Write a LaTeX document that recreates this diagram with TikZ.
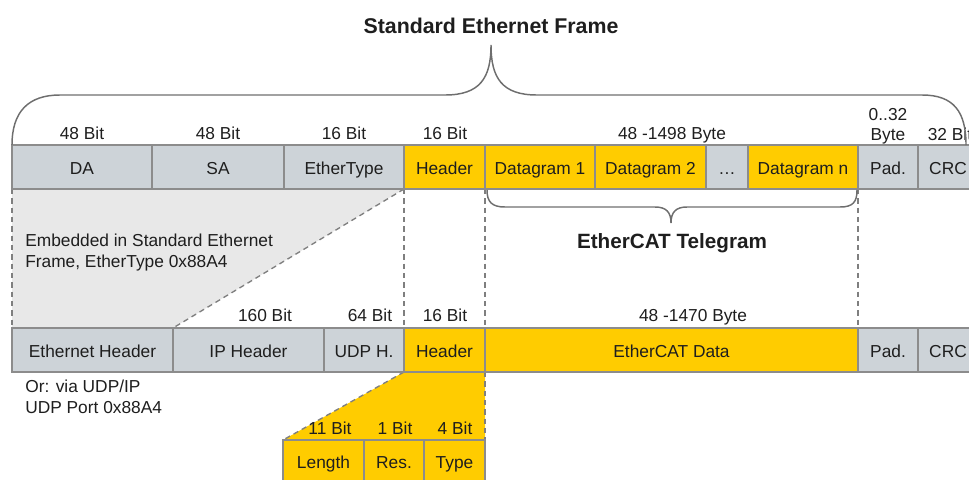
\documentclass[tikz,border=0pt]{standalone}
\usepackage{fontspec}
\setmainfont{Liberation Sans}
\usetikzlibrary{backgrounds}
\definecolor{boxg}{HTML}{CDD3D8}
\definecolor{ylw}{HTML}{FFCC00}
\definecolor{bord}{HTML}{8C8C8C}
\definecolor{dashc}{HTML}{7F7F7F}
\definecolor{embf}{HTML}{E8E8E8}
\definecolor{txt}{HTML}{1E1E1E}
\definecolor{bracec}{HTML}{6E6E6E}
\newcommand\fsz{\fontsize{13}{15.6}\selectfont}
\newcommand\fttl{\fontsize{16}{19}\selectfont\bfseries}
\newcommand\ftel{\fontsize{15.5}{18.5}\selectfont\bfseries}
\begin{document}
\begin{tikzpicture}[x=0.75pt,y=-0.75pt,
  cell/.style={draw=bord,line width=1.3pt,inner sep=0pt,outer sep=0pt,anchor=north west,
    font=\fsz,text=txt,text height=10.5pt,text depth=0pt},
  gcell/.style={cell,fill=boxg},
  ycell/.style={cell,fill=ylw},
  cw/.style={minimum width=#1*0.75pt},
  ch/.style={minimum height=#1*0.75pt},
  lbl/.style={font=\fsz,text=txt,anchor=base,inner sep=0pt},
  lblw/.style={font=\fsz,text=txt,anchor=base west,inner sep=0pt},
  dsh/.style={draw=dashc,line width=1pt,dash pattern=on 4pt off 3pt},
  brc/.style={draw=bracec,line width=1.1pt},
]
\useasboundingbox (0,0) rectangle (969,479);
\clip (0,0) rectangle (969,479);

% top row
\node[gcell,cw=140,ch=44] (da)  at (12,145)  {DA};
\node[gcell,cw=132,ch=44] (sa)  at (152,145) {SA};
\node[gcell,cw=120,ch=44] (et)  at (284,145) {EtherType};
\node[ycell,cw=81,ch=44]  (hd)  at (404,145) {Header};
\node[ycell,cw=110,ch=44] (d1)  at (485,145) {Datagram 1};
\node[ycell,cw=111,ch=44] (d2)  at (595,145) {Datagram 2};
\node[gcell,cw=42,ch=44]  (dd)  at (706,145) {\dots};
\node[ycell,cw=110,ch=44] (dn)  at (748,145) {Datagram n};
\node[gcell,cw=60,ch=44]  (pad) at (858,145) {Pad.};
\node[gcell,cw=60,ch=44]  (crc) at (918,145) {CRC};

% bottom row
\node[gcell,cw=161,ch=44] (eh)   at (12,328)  {Ethernet Header};
\node[gcell,cw=151,ch=44] (ip)   at (173,328) {IP Header};
\node[gcell,cw=80,ch=44]  (udp)  at (324,328) {UDP H.};
\node[ycell,cw=81,ch=44]  (hd2)  at (404,328) {Header};
\node[ycell,cw=373,ch=44] (ecd)  at (485,328) {EtherCAT Data};
\node[gcell,cw=60,ch=44]  (pad2) at (858,328) {Pad.};
\node[gcell,cw=60,ch=44]  (crc2) at (918,328) {CRC};

% header detail
\node[ycell,cw=81,ch=42] (len) at (283,440) {Length};
\node[ycell,cw=60,ch=42] (res) at (364,440) {Res.};
\node[ycell,cw=61,ch=42] (typ) at (424,440) {Type};

\begin{scope}[on background layer]
  \fill[embf] (da.south west) -- (et.south east) -- (ip.north west) -- (eh.north west) -- cycle;
  \fill[ylw] (hd2.south west) -- (hd2.south east) -- (typ.north east) -- (len.north west) -- cycle;
  \draw[dsh] (da.south west) -- (eh.north west);
  \draw[dsh] (et.south east) -- (ip.north west);
  \draw[dsh] (hd.south west) -- (hd2.north west);
  \draw[dsh] (hd.south east) -- (hd2.north east);
  \draw[dsh] (dn.south east) -- (ecd.north east);
  \draw[dsh] (hd2.south west) -- (len.north west);
  \draw[dsh] (hd2.south east) -- (typ.north east);
\end{scope}

% labels top
\node[lbl] (l1) at (82,139)  {48 Bit};
\node[lbl] (l2) at (218,139) {48 Bit};
\node[lbl] (l3) at (344,139) {16 Bit};
\node[lbl] (l4) at (445,139) {16 Bit};
\node[lbl] (l5) at (672,139) {48 -1498 Byte};
\node[lbl] (l6) at (888,120) {0..32};
\node[lbl] (l7) at (888,140) {Byte};
\node[lbl] (l8) at (950,140) {32 Bit};
% labels bottom
\node[lbl] (b1) at (265,321) {160 Bit};
\node[lbl] (b2) at (370,321) {64 Bit};
\node[lbl] (b3) at (445,321) {16 Bit};
\node[lbl] (b4) at (693,321) {48 -1470 Byte};
% labels header detail
\node[lbl] (s1) at (330,434) {11 Bit};
\node[lbl] (s2) at (395,434) {1 Bit};
\node[lbl] (s3) at (455,434) {4 Bit};

% notes
\node[lblw] (e1) at (25,246) {Embedded in Standard Ethernet};
\node[lblw] (e2) at (25,267) {Frame, EtherType 0x88A4};
\node[lblw] (o1) at (25,392) {Or: via UDP/IP};
\node[lblw] (o2) at (25,413) {UDP Port 0x88A4};

% titles
\node[font=\fttl,text=txt,anchor=base,inner sep=0pt] (title) at (491,33) {Standard Ethernet Frame};
\node[font=\ftel,text=txt,anchor=base,inner sep=0pt] (tel) at (672,248) {EtherCAT Telegram};

% braces
\draw[brc] (12,145) .. controls (12,112) and (28,95) .. (60,95) -- (445,95)
  .. controls (480,95) and (491,78) .. (491,45)
  .. controls (491,78) and (502,95) .. (537,95) -- (922,95)
  .. controls (954,95) and (966,112) .. (966,145);
\draw[brc] (487,190) .. controls (487,202) and (492,207) .. (505,207) -- (655,207)
  .. controls (666,207) and (671,212) .. (671,223)
  .. controls (671,212) and (676,207) .. (687,207) -- (840,207)
  .. controls (853,207) and (857,202) .. (857,190);
\end{tikzpicture}
\end{document}
